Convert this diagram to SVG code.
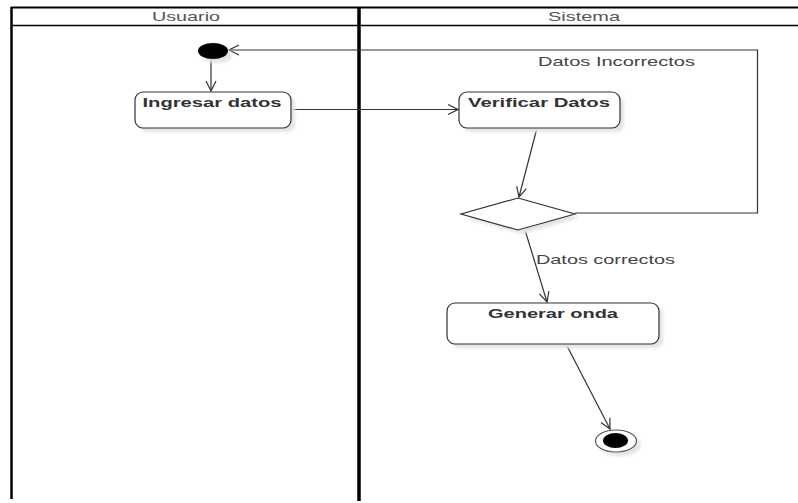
<svg xmlns="http://www.w3.org/2000/svg" width="798" height="503" viewBox="0 0 798 503">
  <style>
    .lane { stroke: #000; fill: none; }
    .hdr { font-family: "Liberation Sans", Arial, sans-serif; font-size: 13px; fill: #555; }
    .lbl { font-family: "Liberation Sans", Arial, sans-serif; font-size: 13px; fill: #444; }
    .act { fill: #fff; stroke: #333; stroke-width: 1.2; }
    .shadow { fill: #e4e4e4; filter: url(#soft); }
    .name { font-family: "Liberation Sans", Arial, sans-serif; font-size: 13px; font-weight: bold; fill: #333; }
    .flow { stroke: #333; stroke-width: 1.2; fill: none; marker-end: url(#open); }
  </style>
  <defs>
    <filter id="soft" x="-20%" y="-20%" width="140%" height="140%">
      <feGaussianBlur stdDeviation="1.5"/>
    </filter>
    <marker id="open" viewBox="0 0 12 12" refX="11" refY="6" markerWidth="12" markerHeight="12" markerUnits="userSpaceOnUse" orient="auto">
      <path d="M1,1 L11,6 L1,11" fill="none" stroke="#333" stroke-width="1.2"/>
    </marker>
  </defs>

  <rect width="798" height="503" fill="#fff"/>

  <!-- swimlanes -->
  <g id="lanes">
    <line class="lane" x1="11" y1="7.5" x2="798" y2="7.5" stroke-width="2"/>
    <line class="lane" x1="11" y1="25.5" x2="798" y2="25.5" stroke-width="1.5"/>
    <line class="lane" x1="11.5" y1="7" x2="11.5" y2="499" stroke-width="2.5"/>
    <line class="lane" x1="359" y1="7" x2="359" y2="501" stroke-width="3.5"/>
    <text class="hdr" x="186" y="21" text-anchor="middle" textLength="68" lengthAdjust="spacingAndGlyphs">Usuario</text>
    <text class="hdr" x="584" y="21" text-anchor="middle" textLength="72" lengthAdjust="spacingAndGlyphs">Sistema</text>
  </g>

  <!-- connectors -->
  <g id="connectors">
    <line class="flow" x1="211" y1="59" x2="211" y2="91"/>
    <line class="flow" x1="291" y1="109.5" x2="458" y2="109.5"/>
    <line class="flow" x1="537" y1="128" x2="519" y2="197"/>
    <polyline class="flow" points="575,213 757.5,213 757.5,50 229,50"/>
    <text class="lbl" x="538" y="66" textLength="157" lengthAdjust="spacingAndGlyphs">Datos Incorrectos</text>
    <line class="flow" x1="525" y1="230" x2="547" y2="302"/>
    <text class="lbl" x="536" y="264" textLength="139" lengthAdjust="spacingAndGlyphs">Datos correctos</text>
    <line class="flow" x1="566" y1="344" x2="610" y2="429"/>
  </g>

  <!-- initial node -->
  <g id="inicio">
    <ellipse class="shadow" cx="217" cy="55" rx="15" ry="8"/>
    <ellipse cx="213" cy="51" rx="15" ry="8" fill="#000"/>
  </g>

  <g id="ingresar-datos">
    <rect class="shadow" x="139" y="96" width="156" height="36" rx="8"/>
    <rect class="act" x="135" y="92" width="156" height="36" rx="8"/>
    <text class="name" x="212" y="107" text-anchor="middle" textLength="139" lengthAdjust="spacingAndGlyphs">Ingresar datos</text>
  </g>

  <g id="verificar-datos">
    <rect class="shadow" x="463" y="96" width="161" height="36" rx="8"/>
    <rect class="act" x="459" y="92" width="161" height="36" rx="8"/>
    <text class="name" x="539" y="107" text-anchor="middle" textLength="142" lengthAdjust="spacingAndGlyphs">Verificar Datos</text>
  </g>

  <g id="decision">
    <polygon class="shadow" points="522,202 579,218 522,234 465,218"/>
    <polygon class="act" points="518,198 575,214 518,230 461,214"/>
  </g>

  <g id="generar-onda">
    <rect class="shadow" x="451" y="307" width="212" height="41" rx="8"/>
    <rect class="act" x="447" y="303" width="212" height="41" rx="8"/>
    <text class="name" x="553" y="318" text-anchor="middle" textLength="130" lengthAdjust="spacingAndGlyphs">Generar onda</text>
  </g>

  <!-- final node -->
  <g id="fin">
    <ellipse class="shadow" cx="620" cy="445" rx="21" ry="11"/>
    <ellipse cx="616" cy="441" rx="20.5" ry="11" fill="#fff" stroke="#555" stroke-width="1.2"/>
    <ellipse cx="615.5" cy="440.5" rx="12.5" ry="7.5" fill="#000"/>
  </g>
</svg>
